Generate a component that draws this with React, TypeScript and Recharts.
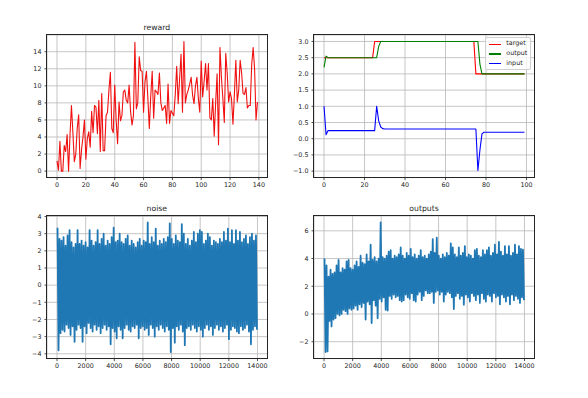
import React from "react";
import { LineChart, Line, XAxis, YAxis, CartesianGrid } from "recharts";

// ---- reward (one value per episode, 0..139)
const rewardValues = [
  1.2, 0.1, 3.5, 0.0, 0.0, 3.0, 2.3, 4.3, 0.0, 4.2,
  7.7, 4.5, 1.1, 2.0, 5.0, 6.6, 0.3, 2.5, 4.0, 6.0,
  1.4, 3.8, 4.6, 2.8, 7.0, 4.5, 7.7, 7.5, 4.4, 8.3,
  2.3, 9.1, 2.4, 2.4, 6.5, 6.9, 9.5, 11.6, 5.0, 4.5,
  10.1, 6.0, 3.2, 8.1, 5.9, 6.5, 9.3, 9.5, 8.3, 8.0,
  10.1, 7.0, 5.4, 6.5, 15.1, 7.3, 8.0, 13.4, 11.8, 11.7,
  6.9, 10.5, 11.7, 8.5, 5.0, 8.8, 11.7, 6.2, 9.5, 9.3,
  9.0, 11.5, 8.0, 7.1, 7.4, 7.7, 5.6, 10.2, 5.6, 7.1,
  6.8, 6.5, 9.0, 12.3, 7.9, 10.8, 13.7, 6.9, 15.2, 8.0,
  9.0, 9.5, 10.2, 11.0, 8.9, 7.9, 10.0, 11.0, 8.5, 6.9,
  12.9, 8.7, 10.5, 12.6, 9.5, 12.6, 6.25, 6.0, 8.5, 4.1,
  8.0, 11.4, 3.1, 14.5, 11.0, 8.5, 5.7, 13.8, 11.5, 8.1,
  9.3, 8.5, 5.5, 9.0, 13.0, 8.1, 9.5, 13.0, 11.5, 9.1,
  9.0, 9.8, 7.4, 7.7, 7.7, 12.5, 14.5, 12.0, 6.0, 8.1,
];

// ---- target / output / input (steps 0..99)
const targetValues = [
  2.5, 2.5, 2.5, 2.5, 2.5, 2.5, 2.5, 2.5, 2.5, 2.5,
  2.5, 2.5, 2.5, 2.5, 2.5, 2.5, 2.5, 2.5, 2.5, 2.5,
  2.5, 2.5, 2.5, 2.5, 2.5, 3.0, 3.0, 3.0, 3.0, 3.0,
  3.0, 3.0, 3.0, 3.0, 3.0, 3.0, 3.0, 3.0, 3.0, 3.0,
  3.0, 3.0, 3.0, 3.0, 3.0, 3.0, 3.0, 3.0, 3.0, 3.0,
  3.0, 3.0, 3.0, 3.0, 3.0, 3.0, 3.0, 3.0, 3.0, 3.0,
  3.0, 3.0, 3.0, 3.0, 3.0, 3.0, 3.0, 3.0, 3.0, 3.0,
  3.0, 3.0, 3.0, 3.0, 3.0, 2.0, 2.0, 2.0, 2.0, 2.0,
  2.0, 2.0, 2.0, 2.0, 2.0, 2.0, 2.0, 2.0, 2.0, 2.0,
  2.0, 2.0, 2.0, 2.0, 2.0, 2.0, 2.0, 2.0, 2.0, 2.0,
];
const outputValues = [
  2.2, 2.55, 2.5, 2.5, 2.5, 2.5, 2.5, 2.5, 2.5, 2.5,
  2.5, 2.5, 2.5, 2.5, 2.5, 2.5, 2.5, 2.5, 2.5, 2.5,
  2.5, 2.5, 2.5, 2.5, 2.5, 2.5, 2.5, 2.85, 3.0, 3.0,
  3.0, 3.0, 3.0, 3.0, 3.0, 3.0, 3.0, 3.0, 3.0, 3.0,
  3.0, 3.0, 3.0, 3.0, 3.0, 3.0, 3.0, 3.0, 3.0, 3.0,
  3.0, 3.0, 3.0, 3.0, 3.0, 3.0, 3.0, 3.0, 3.0, 3.0,
  3.0, 3.0, 3.0, 3.0, 3.0, 3.0, 3.0, 3.0, 3.0, 3.0,
  3.0, 3.0, 3.0, 3.0, 3.0, 3.0, 3.0, 2.3, 2.0, 2.0,
  2.0, 2.0, 2.0, 2.0, 2.0, 2.0, 2.0, 2.0, 2.0, 2.0,
  2.0, 2.0, 2.0, 2.0, 2.0, 2.0, 2.0, 2.0, 2.0, 2.0,
];
const inputValues = [
  1.0, 0.12, 0.25, 0.25, 0.25, 0.25, 0.25, 0.25, 0.25, 0.25,
  0.25, 0.25, 0.25, 0.25, 0.25, 0.25, 0.25, 0.25, 0.25, 0.25,
  0.25, 0.25, 0.25, 0.25, 0.25, 0.25, 1.0, 0.55, 0.36, 0.31,
  0.3, 0.3, 0.3, 0.3, 0.3, 0.3, 0.3, 0.3, 0.3, 0.3,
  0.3, 0.3, 0.3, 0.3, 0.3, 0.3, 0.3, 0.3, 0.3, 0.3,
  0.3, 0.3, 0.3, 0.3, 0.3, 0.3, 0.3, 0.3, 0.3, 0.3,
  0.3, 0.3, 0.3, 0.3, 0.3, 0.3, 0.3, 0.3, 0.3, 0.3,
  0.3, 0.3, 0.3, 0.3, 0.3, 0.3, -0.98, -0.35, 0.15, 0.2,
  0.2, 0.2, 0.2, 0.2, 0.2, 0.2, 0.2, 0.2, 0.2, 0.2,
  0.2, 0.2, 0.2, 0.2, 0.2, 0.2, 0.2, 0.2, 0.2, 0.2,
];

// ---- noise / outputs: 14000 samples, read as high/low envelope per 140-sample bin
const BIN = 140;
const noiseHigh = [
  3.35, 2.7, 2.6, 2.8, 2.3, 2.9, 3.2, 2.5, 2.2, 2.4,
  3.2, 2.4, 2.6, 2.3, 2.5, 2.2, 3.2, 2.6, 2.3, 2.5,
  3.2, 2.4, 2.7, 3.0, 2.3, 2.6, 2.4, 2.8, 3.35, 2.5,
  2.6, 3.0, 2.5, 2.4, 2.7, 2.9, 2.3, 2.6, 2.4, 2.2,
  2.5, 2.7, 2.3, 2.6, 2.5, 3.65, 2.4, 2.8, 2.5, 3.3,
  2.3, 2.6, 2.4, 2.7, 2.5, 2.8, 3.6, 2.7, 2.4, 2.9,
  2.6, 2.5, 3.55, 3.0, 2.4, 2.7, 2.3, 2.6, 3.1, 2.5,
  3.0, 3.2, 3.1, 2.4, 2.6, 3.0, 2.8, 2.3, 2.6, 2.5,
  2.4, 2.7, 2.5, 3.1, 2.6, 3.3, 2.5, 3.2, 2.4, 3.2,
  2.6, 3.1, 2.5, 2.7, 2.9, 2.4, 2.8, 3.0, 2.6, 2.9,
];
const noiseLow = [
  -3.8, -2.8, -2.6, -2.7, -2.3, -2.5, -2.9, -2.4, -3.3, -2.6,
  -2.3, -2.5, -3.3, -2.4, -2.8, -2.2, -2.5, -2.7, -2.3, -2.6,
  -2.4, -2.8, -2.5, -2.3, -2.6, -2.4, -3.45, -2.5, -2.7, -3.1,
  -2.4, -2.6, -3.1, -2.5, -2.3, -2.6, -2.7, -2.4, -2.5, -2.3,
  -3.1, -2.5, -2.4, -2.6, -2.5, -2.9, -2.3, -2.5, -3.0, -2.4,
  -2.6, -2.3, -2.5, -2.7, -2.4, -2.6, -3.9, -2.5, -3.35, -2.4,
  -2.6, -2.3, -2.7, -3.5, -2.5, -2.4, -2.6, -2.3, -2.5, -2.7,
  -2.4, -2.6, -3.0, -2.5, -2.3, -2.6, -2.4, -2.9, -2.5, -2.3,
  -2.6, -2.4, -2.7, -2.5, -2.3, -3.15, -2.6, -2.4, -2.5, -2.7,
  -2.8, -2.4, -2.6, -2.5, -2.3, -2.7, -3.45, -2.6, -2.4, -2.6,
];
const outputsHigh = [
  4.0, 3.5, 2.7, 3.2, 2.9, 3.0, 3.5, 3.9, 3.0, 3.3,
  3.2, 3.8, 3.9, 3.3, 3.2, 3.5, 3.8, 3.4, 4.2, 3.7,
  3.6, 4.3, 3.8, 5.0, 3.9, 4.1, 3.8, 4.0, 6.6, 4.1,
  4.0, 4.2, 4.5, 4.6, 4.0, 4.2, 4.1, 4.3, 4.8, 4.2,
  4.0, 4.4, 4.2, 4.7, 4.1, 4.3, 4.0, 4.2, 4.6, 4.1,
  4.2, 4.0, 4.3, 4.5, 5.4, 4.4, 5.5, 4.2, 4.0, 4.3,
  4.1, 4.4, 4.2, 5.1, 4.8, 4.3, 4.1, 4.8, 4.2, 4.4,
  4.9, 4.1, 4.3, 4.2, 4.0, 4.6, 4.7, 4.2, 4.1, 4.6,
  4.3, 4.6, 4.8, 4.2, 4.4, 5.0, 4.3, 5.2, 4.5, 4.2,
  4.9, 4.3, 4.9, 4.2, 4.4, 5.0, 4.3, 4.9, 4.7, 4.65,
];
const outputsLow = [
  -2.75, -2.7, -0.5, -0.9, -0.4, -0.3, 0.0, -0.1, 0.0, 0.3,
  0.2, 0.0, 0.4, 0.3, 0.4, 0.6, 0.3, 0.7, 0.5, 0.8,
  -0.4, 0.9, 0.7, -0.65, 1.0, 0.6, -0.3, 1.1, 0.9, 1.2,
  0.3, 0.25, 1.3, 1.1, 1.4, 1.2, 1.3, 1.0, 0.9, 1.0,
  1.4, 1.2, 1.1, 1.5, 1.0, 0.9, 1.4, 1.6, 1.0, 1.3,
  1.7, 1.5, 1.5, 1.6, 0.8, 1.6, 1.7, 1.4, 1.6, 0.9,
  1.4, 1.6, 1.5, 1.2, 0.36, 1.3, 1.5, 1.1, 1.3, 0.67,
  1.4, 1.2, 0.9, 1.5, 1.3, 1.0, 1.4, 0.8, 1.5, 1.1,
  0.9, 1.4, 1.3, 0.9, 1.5, 1.2, 1.3, 0.7, 1.4, 1.2,
  0.9, 1.3, 0.7, 1.4, 1.0, 1.3, 1.1, 0.8, 1.2, 1.0,
];

const rewardTicksX = [0, 20, 40, 60, 80, 100, 120, 140];
const rewardTicksY = [0, 2, 4, 6, 8, 10, 12, 14];
const stepTicksX = [0, 20, 40, 60, 80, 100];
const stepTicksY = [-1.0, -0.5, 0.0, 0.5, 1.0, 1.5, 2.0, 2.5, 3.0];
const sampleTicksX = [0, 2000, 4000, 6000, 8000, 10000, 12000, 14000];
const noiseTicksY = [-4, -3, -2, -1, 0, 1, 2, 3, 4];
const outputsTicksY = [-2, 0, 2, 4, 6];

const rewardData = rewardValues.map((v, i) => ({ x: i, reward: v }));
const stepData = targetValues.map((v, i) => ({
  x: i,
  target: v,
  output: outputValues[i],
  input: inputValues[i],
}));
const zigzag = (high: number[], low: number[]) =>
  high.flatMap((h, k) => [
    { x: k * BIN + 35, v: h },
    { x: k * BIN + 105, v: low[k] },
  ]);
const noiseData = zigzag(noiseHigh, noiseLow);
const outputsData = zigzag(outputsHigh, outputsLow);

const FONT = "'DejaVu Sans', sans-serif";
const INK = "#262626";
const minus = (s: string) => s.replace("-", "\u2212");
const fmtInt = (v: number) => minus(String(v));
const fmt1 = (v: number) => minus(v.toFixed(1));

type Box = { left: number; top: number; width: number; height: number };

const PAD_L = 40;
const PAD_T = 10;
const PAD_R = 10;
const PAD_B = 18;

function Panel({
  box,
  title,
  data,
  xDomain,
  xTicks,
  yDomain,
  yTicks,
  yFormat,
  children,
}: {
  box: Box;
  title?: string;
  data: object[];
  xDomain: [number, number];
  xTicks: number[];
  yDomain: [number, number];
  yTicks: number[];
  yFormat: (v: number) => string;
  children: React.ReactNode;
}) {
  const tick = { fill: INK, fontSize: 6.4, fontFamily: FONT };
  const tickLine = { stroke: INK, strokeWidth: 0.8 };
  return (
    <>
      {title && (
        <div
          style={{
            position: "absolute",
            left: box.left,
            top: box.top - 12,
            width: box.width,
            textAlign: "center",
            fontFamily: FONT,
            fontSize: 7.7,
            lineHeight: "9px",
            color: INK,
          }}
        >
          {title}
        </div>
      )}
      <div style={{ position: "absolute", left: box.left - PAD_L, top: box.top - PAD_T }}>
        <LineChart
          width={box.width + PAD_L + PAD_R}
          height={box.height + PAD_T + PAD_B}
          data={data}
          margin={{ top: PAD_T, right: PAD_R, left: 0, bottom: 0 }}
        >
          <CartesianGrid stroke="#b8b8b8" strokeWidth={0.8} />
          <XAxis
            dataKey="x"
            type="number"
            domain={xDomain}
            ticks={xTicks}
            interval={0}
            allowDataOverflow
            height={PAD_B}
            axisLine={false}
            tickLine={tickLine}
            tickSize={2.5}
            tickMargin={2.2}
            tick={tick}
            tickFormatter={fmtInt}
          />
          <YAxis
            type="number"
            domain={yDomain}
            ticks={yTicks}
            interval={0}
            allowDataOverflow
            width={PAD_L}
            axisLine={false}
            tickLine={tickLine}
            tickSize={2.5}
            tickMargin={3}
            tick={tick}
            tickFormatter={yFormat}
          />
          {children}
        </LineChart>
      </div>
      <div
        style={{
          position: "absolute",
          left: box.left - 0.5,
          top: box.top - 0.5,
          width: box.width + 1,
          height: box.height + 1,
          border: `1px solid ${INK}`,
          boxSizing: "border-box",
          pointerEvents: "none",
        }}
      />
    </>
  );
}

const legendItems = [
  { name: "target", color: "#ff0000" },
  { name: "output", color: "#008000" },
  { name: "input", color: "#0000ff" },
];

export default function App() {
  const colW = 220.5;
  const rowH = 142.6;
  const boxes: Box[] = [
    { left: 46.6, top: 34.6, width: colW, height: rowH },
    { left: 313.8, top: 34.6, width: colW, height: rowH },
    { left: 46.6, top: 215.5, width: colW, height: rowH },
    { left: 313.8, top: 215.5, width: colW, height: rowH },
  ];
  const lineProps = {
    dot: false,
    activeDot: false,
    isAnimationActive: false,
    type: "linear" as const,
    strokeLinejoin: "round" as const,
  };
  return (
    <div
      style={{
        position: "absolute",
        left: 0,
        top: 0,
        width: 588,
        height: 398,
        background: "#ffffff",
        overflow: "hidden",
      }}
    >
      <Panel
        box={boxes[0]}
        title="reward"
        data={rewardData}
        xDomain={[-6.95, 145.95]}
        xTicks={rewardTicksX}
        yDomain={[-0.76, 15.96]}
        yTicks={rewardTicksY}
        yFormat={fmtInt}
      >
        <Line dataKey="reward" stroke="#f01010" strokeWidth={1.1} {...lineProps} />
      </Panel>

      <Panel
        box={boxes[1]}
        data={stepData}
        xDomain={[-4.95, 103.95]}
        xTicks={stepTicksX}
        yDomain={[-1.2, 3.2]}
        yTicks={stepTicksY}
        yFormat={fmt1}
      >
        <Line dataKey="target" stroke="#ff0000" strokeWidth={1.1} {...lineProps} />
        <Line dataKey="output" stroke="#008000" strokeWidth={1.1} {...lineProps} />
        <Line dataKey="input" stroke="#0000ff" strokeWidth={1.1} {...lineProps} />
      </Panel>
      <div
        style={{
          position: "absolute",
          left: 485,
          top: 36.7,
          width: 45.5,
          height: 33.5,
          boxSizing: "border-box",
          border: "1px solid #d0d0d0",
          borderRadius: 2,
          background: "rgba(255,255,255,0.8)",
          paddingTop: 1.6,
          fontFamily: FONT,
          fontSize: 6.4,
          color: INK,
        }}
      >
        {legendItems.map((it) => (
          <div key={it.name} style={{ display: "flex", alignItems: "center", height: 9.8 }}>
            <span
              style={{
                display: "inline-block",
                marginLeft: 2.6,
                width: 12.4,
                height: 1.1,
                background: it.color,
              }}
            />
            <span style={{ marginLeft: 5.3, lineHeight: "9.8px" }}>{it.name}</span>
          </div>
        ))}
      </div>

      <Panel
        box={boxes[2]}
        title="noise"
        data={noiseData}
        xDomain={[-700, 14700]}
        xTicks={sampleTicksX}
        yDomain={[-4.28, 4.03]}
        yTicks={noiseTicksY}
        yFormat={fmtInt}
      >
        <Line dataKey="v" stroke="#1f77b4" strokeWidth={1.8} {...lineProps} />
      </Panel>

      <Panel
        box={boxes[3]}
        title="outputs"
        data={outputsData}
        xDomain={[-700, 14700]}
        xTicks={sampleTicksX}
        yDomain={[-3.22, 7.07]}
        yTicks={outputsTicksY}
        yFormat={fmtInt}
      >
        <Line dataKey="v" stroke="#1f77b4" strokeWidth={1.8} {...lineProps} />
      </Panel>
    </div>
  );
}
